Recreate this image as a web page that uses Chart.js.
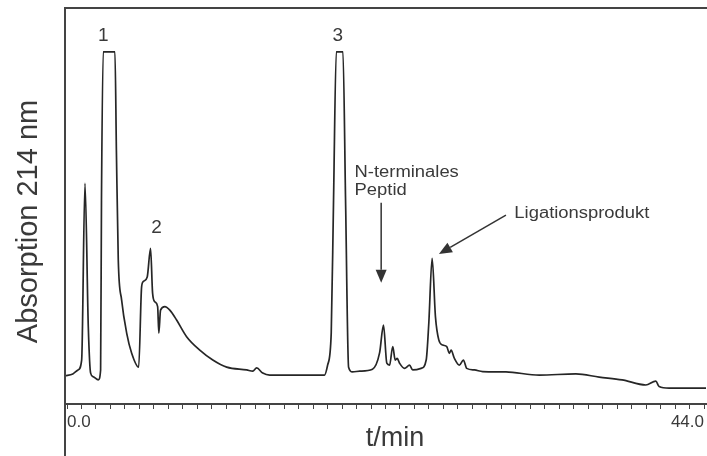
<!DOCTYPE html>
<html>
<head>
    <title>HPLC-Chromatogramm</title>
    <meta charset="UTF-8">
    <script src="https://cdn.jsdelivr.net/npm/chart.js"></script>
    <style>
        body { margin: 0; background: #fff; }
        canvas { display: block; }
    </style>
</head>
<body>
    <canvas id="chrom" width="707" height="456"></canvas>
<script>
    // Retentionszeit (min) und Absorption (willkürliche Einheiten)
    var times = [-0.14, 0.4, 0.76, 1.01, 1.24, 1.47, 1.63, 1.81, 2.16, 2.32, 2.38, 2.50, 3.31, 3.41, 3.54, 3.77,
        4.12, 4.46, 4.95, 5.15, 5.26, 5.54, 5.77, 5.91, 6.07, 6.26, 6.34, 6.46, 6.76, 7.10, 7.57, 8.26,
        9.17, 10.07, 11.03, 12.41, 12.83, 13.10, 13.52, 14.0, 17.79, 18.0, 18.25, 18.41, 18.6, 19.06,
        19.24, 19.45, 19.72, 20.21, 21.1, 21.59, 21.86, 22.09, 22.28, 22.5, 22.67, 22.81, 22.97, 23.31,
        23.66, 23.88, 24.46, 24.81, 24.99, 25.22, 25.45, 25.68, 25.95, 26.23, 26.41, 26.53, 26.76, 27.1,
        27.38, 27.61, 28.14, 28.71, 30.32, 32.62, 35.15, 36.76, 38.34, 39.98, 40.67, 40.9, 41.59, 44.14];
    var absorption = [7.1, 7.6, 8.6, 11.1, 55.7, 19.4, 7.8, 6.9, 6.1, 8.6, 51.5, 88.9, 88.9, 64.1, 36.4, 26.3,
        17.9, 12.9, 9.3, 29.5, 30.9, 32.1, 39.3, 28.0, 25.8, 24.6, 17.9, 23.7, 24.6, 23.7, 21.2, 17.0,
        13.6, 11.1, 9.3, 8.6, 8.3, 9.1, 7.8, 7.3, 7.3, 9.8, 17.9, 51.5, 88.9, 88.9,
        51.5, 9.3, 8.1, 8.3, 8.8, 12.9, 19.9, 10.3, 9.8, 14.5, 11.1, 11.5, 10.3, 9.0,
        9.8, 8.6, 9.0, 11.1, 20.4, 36.8, 22.0, 16.2, 14.9, 14.5, 12.8, 13.6, 11.5, 9.8,
        11.1, 9.0, 8.6, 8.2, 8.1, 7.3, 7.6, 6.8, 6.1, 4.8, 5.8, 4.4, 4.0, 4.0];

    // Achsenbeschriftung
    var tickValues = [0, 44];
    var tickLabels = ['0.0', '44.0'];

    // Peaknummern: Text, Zeit, Höhe (Grundlinie des Textes)
    var peakNames = ['1', '2', '3'];
    var peakNameT = [2.50, 6.19, 18.71];
    var peakNameV = [91.7, 43.2, 91.7];

    // Beschriftungen mit Pfeil
    var noteLines = [['N-terminales', 'Peptid'], ['Ligationsprodukt']];
    var noteT = [19.86, 30.9];
    var noteV = [57.3, 46.9];
    var arrowFrom = [[21.70, 50.8], [30.32, 47.7]];
    var arrowTo = [[21.70, 30.6], [25.69, 37.9]];

    var grey = '#444';
    var font = '"Liberation Sans", Arial, sans-serif';

    var minuteTicks = [];
    for (var m = 0; m <= 44; m++) minuteTicks.push(m);

    var points = times.map(function (t, i) { return { x: t, y: absorption[i] }; });

    function wideText(ctx, text, x, y, sx) {
        ctx.save();
        ctx.translate(x, y);
        ctx.scale(sx, 1);
        ctx.fillText(text, 0, 0);
        ctx.restore();
    }

    function arrow(ctx, x1, y1, x2, y2) {
        var a = Math.atan2(y2 - y1, x2 - x1);
        var len = 13, half = 5.5;
        var bx = x2 - Math.cos(a) * len, by = y2 - Math.sin(a) * len;
        ctx.beginPath();
        ctx.moveTo(x1, y1);
        ctx.lineTo(bx, by);
        ctx.stroke();
        ctx.beginPath();
        ctx.moveTo(x2, y2);
        ctx.lineTo(bx - Math.sin(a) * half, by + Math.cos(a) * half);
        ctx.lineTo(bx + Math.sin(a) * half, by - Math.cos(a) * half);
        ctx.closePath();
        ctx.fill();
    }

    // Rahmen, Titel und Beschriftungen
    var decorations = {
        id: 'decorations',
        afterDraw: function (chart) {
            var ctx = chart.ctx, a = chart.chartArea;
            var xs = chart.scales.x, ys = chart.scales.y;
            ctx.save();
            ctx.strokeStyle = grey;
            ctx.lineWidth = 2;
            ctx.beginPath();
            ctx.moveTo(a.left, chart.height);
            ctx.lineTo(a.left, a.top);
            ctx.lineTo(chart.width, a.top);
            ctx.stroke();

            ctx.fillStyle = '#3a3a3a';
            ctx.textBaseline = 'alphabetic';

            // y-Titel
            ctx.save();
            ctx.translate(36.5, 221.5);
            ctx.rotate(-Math.PI / 2);
            ctx.textAlign = 'center';
            ctx.font = '29px ' + font;
            ctx.fillText('Absorption 214 nm', 0, 0);
            ctx.restore();

            // x-Titel
            ctx.textAlign = 'center';
            ctx.font = '27px ' + font;
            ctx.fillText('t/min', 395, 446);

            // Peaknummern
            ctx.font = '19px ' + font;
            peakNames.forEach(function (p, i) {
                ctx.fillText(p, xs.getPixelForValue(peakNameT[i]), ys.getPixelForValue(peakNameV[i]));
            });

            // Hinweise
            ctx.textAlign = 'left';
            ctx.font = '16px ' + font;
            noteLines.forEach(function (lines, i) {
                var x = xs.getPixelForValue(noteT[i]);
                var y = ys.getPixelForValue(noteV[i]);
                lines.forEach(function (s, k) {
                    wideText(ctx, s, x, y + k * 17.5, 1.15);
                });
            });

            ctx.strokeStyle = '#333';
            ctx.fillStyle = '#333';
            ctx.lineWidth = 1.5;
            arrowFrom.forEach(function (f, i) {
                arrow(ctx, xs.getPixelForValue(f[0]), ys.getPixelForValue(f[1]),
                    xs.getPixelForValue(arrowTo[i][0]), ys.getPixelForValue(arrowTo[i][1]));
            });
            ctx.restore();
        }
    };

    var chart = new Chart(document.getElementById('chrom').getContext('2d'), {
        type: 'line',
        data: {
            datasets: [{
                data: points,
                borderColor: '#262626',
                borderWidth: 1.7,
                pointRadius: 0,
                fill: false,
                cubicInterpolationMode: 'monotone'
            }]
        },
        options: {
            responsive: false,
            animation: false,
            layout: { padding: { left: 65, top: 8, right: 0, bottom: 0 } },
            plugins: { legend: { display: false }, tooltip: { enabled: false } },
            scales: {
                x: {
                    type: 'linear',
                    min: -0.14,
                    max: 44.14,
                    afterBuildTicks: function (s) {
                        s.ticks = minuteTicks.map(function (v) { return { value: v }; });
                    },
                    afterFit: function (s) { s.height = 52; },
                    border: { color: grey, width: 2 },
                    grid: { drawOnChartArea: false, drawTicks: true, tickLength: 5, color: grey, lineWidth: 1 },
                    ticks: {
                        autoSkip: false,
                        maxRotation: 0,
                        align: 'inner',
                        padding: 3,
                        color: '#3a3a3a',
                        font: { family: font, size: 17 },
                        callback: function (v) {
                            var i = tickValues.indexOf(v);
                            return i < 0 ? '' : tickLabels[i];
                        }
                    }
                },
                y: { display: false, min: 0, max: 100 }
            }
        },
        plugins: [decorations]
    });
</script>
</body>
</html>
